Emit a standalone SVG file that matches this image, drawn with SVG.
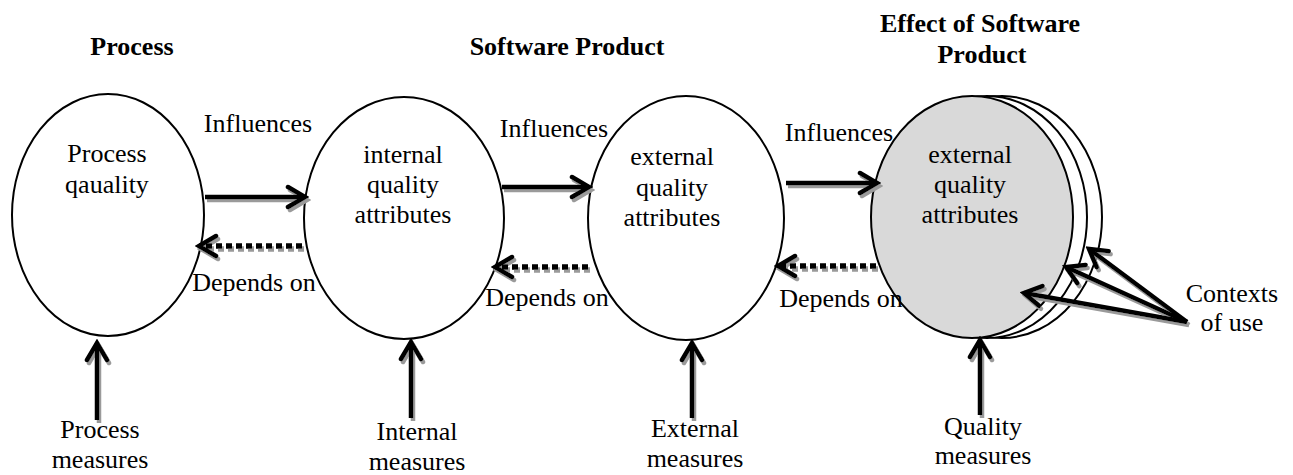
<svg xmlns="http://www.w3.org/2000/svg" width="1293" height="475" viewBox="0 0 1293 475">
<style>
text{font-family:"Liberation Serif","Times New Roman",serif;font-size:26px;fill:#000;text-anchor:middle}
.title{font-weight:bold}
.node ellipse{stroke:#000;stroke-width:2;fill:#fff}
.conn{fill:none;stroke:#000;stroke-width:4.5}
.conn.dash{stroke-dasharray:6 4;stroke-width:5.5}
</style>
<defs>
<marker id="ah" markerUnits="userSpaceOnUse" markerWidth="26" markerHeight="28" viewBox="-22 -14 26 28" refX="0" refY="0" orient="auto">
<path d="M-17 -10 L0 0 L-17 10" fill="none" stroke="#000" stroke-width="4.5" stroke-linejoin="miter" stroke-linecap="round"/>
</marker>
<filter id="sh" x="-20%" y="-20%" width="140%" height="140%">
<feDropShadow dx="2" dy="3" stdDeviation="0" flood-color="#9a9a9a"/>
</filter>
</defs>
<rect width="1293" height="475" fill="#fff"/>

<g id="titles">
<text class="title" x="132" y="55">Process</text>
<text class="title" x="567" y="55">Software Product</text>
<text class="title" x="980" y="32">Effect of Software</text>
<text class="title" x="982" y="63">Product</text>
</g>

<g id="node-process" class="node">
<ellipse cx="108" cy="215" rx="96" ry="121"/>
<text x="107" y="162">Process</text>
<text x="107" y="193">qauality</text>
</g>

<g id="node-internal" class="node">
<ellipse cx="404" cy="218" rx="100" ry="121"/>
<text x="403" y="163">internal</text>
<text x="403" y="193">quality</text>
<text x="403" y="223">attributes</text>
</g>

<g id="node-external" class="node">
<ellipse cx="686" cy="218" rx="98" ry="122"/>
<text x="672" y="165">external</text>
<text x="672" y="196">quality</text>
<text x="672" y="226">attributes</text>
</g>

<g id="node-effect" class="node">
<ellipse cx="1002" cy="217" rx="100" ry="121"/>
<ellipse cx="987" cy="217" rx="100" ry="121"/>
<ellipse cx="972" cy="217" rx="101" ry="121" style="fill:#d9d9d9"/>
<text x="970" y="163">external</text>
<text x="970" y="193">quality</text>
<text x="970" y="223">attributes</text>
</g>

<g id="connectors" filter="url(#sh)">
<line class="conn" x1="205" y1="197" x2="305" y2="197" marker-end="url(#ah)"/>
<line class="conn dash" x1="302" y1="246" x2="199" y2="246" marker-end="url(#ah)"/>
<line class="conn" x1="502" y1="187" x2="589" y2="187" marker-end="url(#ah)"/>
<line class="conn dash" x1="588" y1="267" x2="495" y2="267" marker-end="url(#ah)"/>
<line class="conn" x1="786" y1="183" x2="877" y2="183" marker-end="url(#ah)"/>
<line class="conn dash" x1="876" y1="266" x2="778" y2="266" marker-end="url(#ah)"/>
<line class="conn" x1="97" y1="420" x2="97" y2="343" marker-end="url(#ah)"/>
<line class="conn" x1="411" y1="418" x2="411" y2="342" marker-end="url(#ah)"/>
<line class="conn" x1="692" y1="418" x2="692" y2="343" marker-end="url(#ah)"/>
<line class="conn" x1="980" y1="415" x2="980" y2="340" marker-end="url(#ah)"/>
<line class="conn" x1="1187" y1="322" x2="1089" y2="249" marker-end="url(#ah)"/>
<line class="conn" x1="1187" y1="322" x2="1066" y2="267" marker-end="url(#ah)"/>
<line class="conn" x1="1187" y1="322" x2="1024" y2="293" marker-end="url(#ah)"/>
</g>

<g id="labels">
<text x="258" y="132">Influences</text>
<text x="554" y="137">Influences</text>
<text x="839" y="141">Influences</text>
<text x="254" y="291">Depends on</text>
<text x="547" y="306">Depends on</text>
<text x="841" y="307">Depends on</text>
<text x="100" y="438">Process</text>
<text x="100" y="468">measures</text>
<text x="417" y="440">Internal</text>
<text x="417" y="470">measures</text>
<text x="695" y="437">External</text>
<text x="695" y="467">measures</text>
<text x="983" y="435">Quality</text>
<text x="983" y="464">measures</text>
<text x="1232" y="302">Contexts</text>
<text x="1232" y="331">of use</text>
</g>
</svg>
